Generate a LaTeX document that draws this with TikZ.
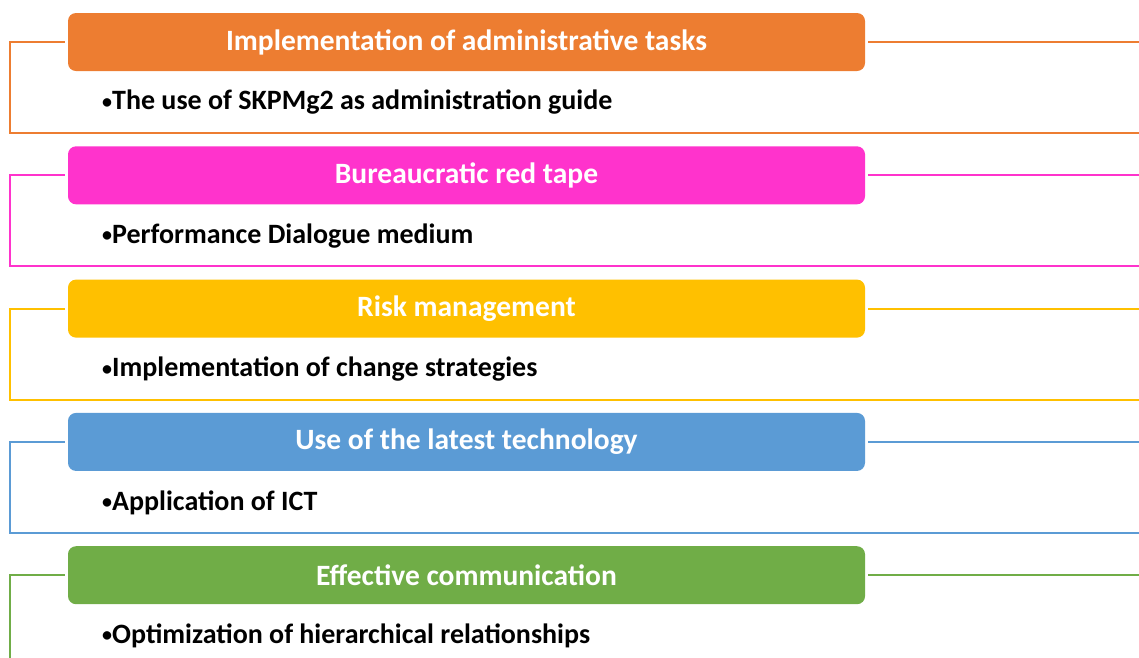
\documentclass[tikz,border=0pt]{standalone}
\usepackage{fontspec}
\setmainfont{Carlito}
\definecolor{cA}{HTML}{ED7D31}
\definecolor{cB}{HTML}{FF33CC}
\definecolor{cC}{HTML}{FFC000}
\definecolor{cD}{HTML}{5B9BD5}
\definecolor{cE}{HTML}{70AD47}
\newcommand{\mybul}{\raisebox{1.5pt}{\fontsize{20}{20}\selectfont•}}
\tikzset{
  hdr/.style={rounded corners=8pt, minimum width=797pt, minimum height=58pt, inner sep=0pt,
     text=white, font=\bfseries\fontsize{29.5}{34}\selectfont},
  bul/.style={anchor=west, inner sep=0pt, font=\bfseries\fontsize{28}{32}\selectfont},
  frm/.style={line width=2.2pt}
}
\begin{document}
\begin{tikzpicture}[x=1pt,y=-1pt]
\useasboundingbox (0,0) rectangle (1139,657);
\foreach \i/\c/\h/\t in {0/cA/Implementation of administrative tasks/The use of SKPMg2 as administration guide,
  1/cB/Bureaucratic red tape/Performance Dialogue medium,
  2/cC/Risk management/Implementation of change strategies,
  3/cD/Use of the latest technology/Application of ICT,
  4/cE/Effective communication/Optimization of hierarchical relationships}{
  \pgfmathsetmacro{\yt}{13+133.3*\i}
  \node[hdr, fill=\c] (h\i) at (466.5,\yt+29) {\h};
  \node[bul] (t\i) at (102,\yt+89.5) {\mybul\t};
  \coordinate (bl\i) at (10,\yt+120);
  \coordinate (br\i) at (1139,\yt+120);
  \coordinate (tr\i) at (1139,\yt+29);
  \draw[frm, draw=\c] ([xshift=-3pt]h\i.west) -| (bl\i) -- (br\i);
  \draw[frm, draw=\c] ([xshift=3pt]h\i.east) -- (tr\i);
}
\end{tikzpicture}
\end{document}
